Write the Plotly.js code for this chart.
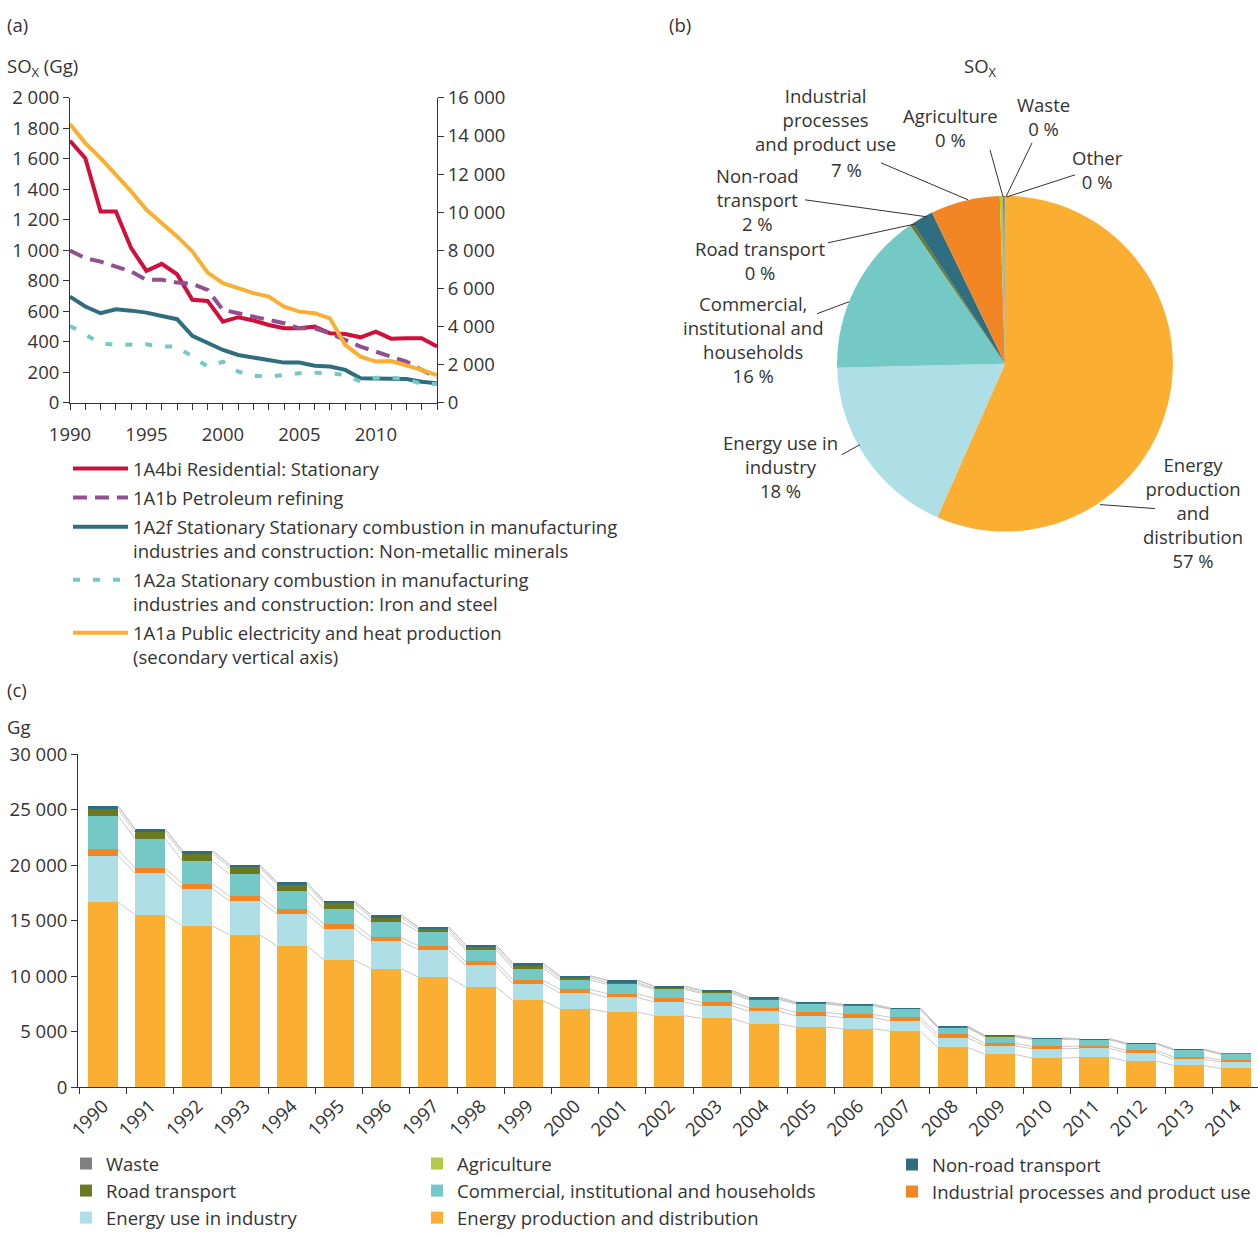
<!DOCTYPE html>
<html>
<head>
<meta charset="utf-8">
<script src="https://cdn.plot.ly/plotly-3.0.1.min.js"></script>
<style>html,body{margin:0;padding:0;background:#fff;}#chart{width:1258px;height:1237px;}</style>
</head>
<body>
<div id="chart"></div>
<script>
// ---------- Panel (a) data ----------
const yearsA = [1990,1991,1992,1993,1994,1995,1996,1997,1998,1999,2000,2001,2002,2003,2004,2005,2006,2007,2008,2009,2010,2011,2012,2013,2014];
const residential = [1719,1605,1255,1255,1014,865,911,843,675,668,532,561,539,510,488,488,499,455,451,429,466,420,423,423,368];
const petroleum = [999,948,926,893,860,806,806,788,780,740,609,587,565,543,521,488,488,455,412,368,335,302,269,215,165];
const nonMetallic = [696,631,587,613,604,591,569,548,438,390,346,313,298,280,263,263,243,237,215,160,160,160,155,138,127];
const ironSteel = [504,445,390,379,383,383,368,368,302,237,269,204,175,171,182,193,197,193,182,138,164,164,153,123,123];
const publicElec = [14630,13630,12840,11970,11090,10130,9430,8730,7940,6830,6270,6010,5750,5570,5040,4780,4700,4430,3030,2420,2160,2190,1980,1720,1450];
const namesA = [
  '1A4bi Residential: Stationary',
  '1A1b Petroleum refining',
  '1A2f Stationary Stationary combustion in manufacturing<br>industries and construction: Non-metallic minerals',
  '1A2a Stationary combustion in manufacturing<br>industries and construction: Iron and steel',
  '1A1a Public electricity and heat production<br>(secondary vertical axis)'
];
const tickYearsA = [1990,1995,2000,2005,2010];

// ---------- Panel (b) data ----------
const pieLabels = ['Energy<br>production<br>and<br>distribution','Energy use in<br>industry','Commercial,<br>institutional and<br>households','Road transport','Non-road<br>transport','Industrial<br>processes<br>and product use','Agriculture','Waste','Other'];
const pieValues = [56.9,18.1,15.9,0.3,2.1,6.7,0.3,0.1,0.1];

// ---------- Panel (c) data ----------
const yearsC = yearsA;
const energyProd = [16680,15530,14540,13730,12740,11480,10670,9920,9040,7820,7040,6770,6440,6200,5710,5410,5260,5050,3580,2950,2620,2680,2350,1950,1680];
const energyInd = [4200,3760,3340,3070,2890,2820,2490,2460,1930,1500,1440,1320,1230,1140,1120,1030,1000,930,870,780,840,810,750,550,580];
const industrial = [570,450,450,420,390,420,360,360,360,330,330,330,330,300,330,300,300,310,300,210,210,210,210,210,180];
const commercial = [2980,2650,2070,1980,1650,1360,1380,1260,1050,1030,840,840,810,810,720,750,750,720,600,600,630,570,570,630,510];
const roadTransport = [630,570,660,630,570,480,390,240,210,240,210,150,120,120,90,60,50,40,40,30,25,20,15,12,10];
const nonRoad = [270,270,240,210,210,210,210,180,240,240,160,210,150,150,120,90,90,60,90,90,90,60,60,60,60];
const agriculture = [15,15,15,15,15,12,12,12,12,12,10,10,10,10,10,10,10,10,8,8,8,8,8,8,8];
const waste = [6,6,6,6,6,6,6,6,6,6,5,5,5,5,5,5,5,5,5,5,5,5,5,5,5];
const seriesNamesC = ['Energy production and distribution','Energy use in industry','Industrial processes and product use','Commercial, institutional and households','Road transport','Non-road transport','Agriculture','Waste'];

// ---------- styling ----------
const W = 1258, H = 1237;
const FS = 18.5;
const px = v => v / W, py = v => 1 - v / H;
const TXT = '#333333';
const colA = ['#D0103A','#92508F','#2E6E80','#74C9C6','#FAAF33'];
const dashA = ['solid','14px,8px','solid','7px,13px','solid'];
const colC = ['#FAAF33','#AEDFE7','#F28524','#74C9C6','#6B7A21','#2E6E80','#B4C945','#7F8082'];
const pieColors = ['#FAAF33','#AEDFE7','#74C9C6','#6B7A21','#2E6E80','#F28524','#B4C945','#7F8082','#9B9B9B'];
const legendOfC = ['legend3','legend2','legend4','legend3','legend2','legend4','legend3','legend2'];

const traces = [];
const seriesA = [residential, petroleum, nonMetallic, ironSteel, publicElec];
seriesA.forEach((s, i) => {
  traces.push({
    type: 'scatter', mode: 'lines', x: yearsA, y: s, name: namesA[i],
    xaxis: 'x', yaxis: i === 4 ? 'y2' : 'y',
    line: {color: colA[i], width: 4, dash: dashA[i]},
    legend: 'legend', legendgroup: 'a' + i, hoverinfo: 'skip'
  });
});

// pie
traces.push({
  type: 'pie', labels: pieLabels, values: pieValues, sort: false, direction: 'clockwise', rotation: 0,
  domain: {x: [px(837), px(1173)], y: [py(532), py(196)]},
  marker: {colors: pieColors, line: {width: 0}}, textinfo: 'none', showlegend: false, hoverinfo: 'skip'
});

// stacked bars
const seriesC = [energyProd, energyInd, industrial, commercial, roadTransport, nonRoad, agriculture, waste];
const barWidth = 0.636;
seriesC.forEach((s, i) => {
  traces.push({
    type: 'bar', x: yearsC, y: s, name: seriesNamesC[i], xaxis: 'x2', yaxis: 'y3',
    width: barWidth, marker: {color: colC[i], line: {width: 0}},
    legend: legendOfC[i], legendrank: 100 - i, hoverinfo: 'skip'
  });
});
// connector lines between the tops of each stack level
const cum = [];
seriesC.forEach((s, i) => {
  cum.push(s.map((v, j) => v + (i > 0 ? cum[i - 1][j] : 0)));
});
cum.forEach(level => {
  const xs = [], ys = [];
  for (let j = 0; j < yearsC.length - 1; j++) {
    xs.push(yearsC[j] + barWidth / 2, yearsC[j + 1] - barWidth / 2, null);
    ys.push(level[j], level[j + 1], null);
  }
  traces.push({type: 'scatter', mode: 'lines', x: xs, y: ys, xaxis: 'x2', yaxis: 'y3',
    line: {color: '#C8C8C8', width: 1}, showlegend: false, hoverinfo: 'skip'});
});

// pie percentages
const pieSum = pieValues.reduce((a, b) => a + b, 0);
const piePct = pieValues.map(v => Math.round(v / pieSum * 100) + ' %');

// pie label positions (text centre), leader lines (from, to), and optional separate percentage position
const pieLabelPos = [
  {x: 1193, y: 513, l: [1100, 505, 1155, 509]},
  {x: 780, y: 467, l: [842, 455, 860, 445]},
  {x: 753, y: 340, l: [817, 314, 849, 302]},
  {x: 760, y: 261, l: [828, 243, 916, 224]},
  {x: 757, y: 200, l: [805, 200, 927, 217]},
  {x: 825, y: 120, l: [881, 163, 968, 200], pct: [846, 170]},
  {x: 950, y: 128, l: [990, 150, 1003, 197]},
  {x: 1043, y: 117, l: [1032, 143, 1006, 197]},
  {x: 1097, y: 170, l: [1075, 175, 1007, 197]}
];
const annotations = [];
const shapes = [];
pieLabels.forEach((lab, i) => {
  const p = pieLabelPos[i];
  const txt = p.pct ? lab : lab + '<br>' + piePct[i];
  annotations.push({xref: 'paper', yref: 'paper', x: px(p.x), y: py(p.y), xanchor: 'center', yanchor: 'middle',
    text: txt, showarrow: false, align: 'center', borderpad: 0, font: {size: FS, color: TXT}});
  if (p.pct) {
    annotations.push({xref: 'paper', yref: 'paper', x: px(p.pct[0]), y: py(p.pct[1]), xanchor: 'center', yanchor: 'middle',
      text: piePct[i], showarrow: false, borderpad: 0, font: {size: FS, color: TXT}});
  }
  shapes.push({type: 'line', xref: 'paper', yref: 'paper', x0: px(p.l[0]), y0: py(p.l[1]), x1: px(p.l[2]), y1: py(p.l[3]),
    line: {color: TXT, width: 1}});
});
const lbl = (t, x, y, anchor) => annotations.push({xref: 'paper', yref: 'paper', x: px(x), y: py(y), xanchor: anchor || 'left', yanchor: 'middle', text: t, showarrow: false, font: {size: FS, color: TXT}});
lbl('(a)', 5, 25);
lbl('SO<sub>X</sub> (Gg)', 5, 67);
lbl('(b)', 667, 25);
lbl('SO<sub>X</sub>', 980, 67, 'center');
lbl('(c)', 5, 690);
lbl('Gg', 5, 727);

const axBase = {showgrid: false, zeroline: false, showline: true, linecolor: TXT, linewidth: 1, ticks: 'outside', ticklen: 6, tickcolor: TXT, tickwidth: 1, tickfont: {size: FS, color: TXT}};

const legBase = {xanchor: 'left', yanchor: 'top', bgcolor: 'rgba(0,0,0,0)', font: {size: FS, color: TXT}};

const layout = {
  width: W, height: H, margin: {l: 0, r: 0, t: 0, b: 0}, paper_bgcolor: '#fff', plot_bgcolor: 'rgba(0,0,0,0)',
  font: {family: '"Open Sans", "Noto Sans", sans-serif', size: FS, color: TXT},
  separators: ', ',
  showlegend: true,
  xaxis: Object.assign({}, axBase, {domain: [px(70), px(437)], anchor: 'y', range: [1990, 2014],
    tickmode: 'array', tickvals: tickYearsA, ticktext: tickYearsA.map(String), ticklabelstandoff: 9,
    minor: {tickmode: 'array', tickvals: yearsA, ticks: 'outside', ticklen: 6, tickcolor: TXT, showgrid: false}}),
  yaxis: Object.assign({}, axBase, {domain: [py(403), py(98)], anchor: 'x', range: [0, 2000], dtick: 200, tickformat: ',d'}),
  yaxis2: Object.assign({}, axBase, {overlaying: 'y', side: 'right', anchor: 'x', range: [0, 16000], dtick: 2000, tickformat: ',d'}),
  xaxis2: Object.assign({}, axBase, {domain: [px(78), 1], anchor: 'y3', range: [1989.47, 2014.47],
    tickmode: 'array', tickvals: yearsC, ticktext: yearsC.map(String), ticks: '', tickangle: -45,
    minor: {tickmode: 'array', tickvals: yearsC.map(y => y - 0.5).concat([2014.5]), ticks: 'outside', ticklen: 6, tickcolor: TXT, showgrid: false}}),
  yaxis3: Object.assign({}, axBase, {domain: [py(1088), py(755)], anchor: 'x2', range: [0, 30000], dtick: 5000, tickformat: ',d'}),
  legend: Object.assign({}, legBase, {x: px(68), y: py(450), itemwidth: 55, valign: 'top', traceorder: 'grouped', tracegroupgap: 2}),
  legend2: Object.assign({}, legBase, {x: px(66), y: py(1146), traceorder: 'normal', itemwidth: 30}),
  legend3: Object.assign({}, legBase, {x: px(417), y: py(1146), traceorder: 'normal', itemwidth: 30}),
  legend4: Object.assign({}, legBase, {x: px(892), y: py(1146), traceorder: 'normal', itemwidth: 30}),
  annotations: annotations,
  shapes: shapes,
  barmode: 'stack'
};

Plotly.newPlot('chart', traces, layout, {displayModeBar: false, staticPlot: true});
</script>
</body>
</html>
